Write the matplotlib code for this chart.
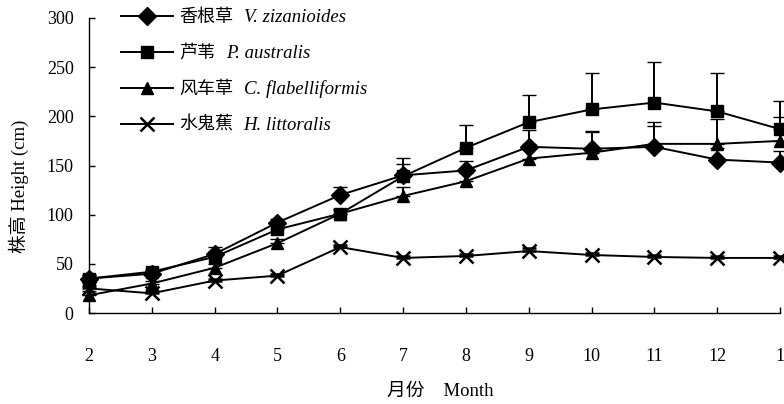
import numpy as np
import matplotlib
matplotlib.use("Agg")
import matplotlib.pyplot as plt

plt.rcParams['font.family'] = ['Liberation Serif', 'Noto Sans CJK SC']

# ==== Data: plant height (cm) by month, Feb -> next Jan ====
months = [2, 3, 4, 5, 6, 7, 8, 9, 10, 11, 12, 13]
month_labels = ['2', '3', '4', '5', '6', '7', '8', '9', '10', '11', '12', '1']

vz_height = [35, 40, 60, 92, 120, 140, 145, 169, 167, 169, 156, 153]
vz_err = [4, 4, 7, 4, 8, 12, 10, 17, 17, 25, 12, 12]

pa_height = [35, 42, 57, 85, 101, 139, 168, 194, 207, 214, 205, 187]
pa_err = [4, 3, 5, 5, 5, 19, 23, 28, 37, 41, 39, 29]

cf_height = [18, 30, 46, 71, 101, 119, 134, 157, 163, 172, 172, 175]
cf_err = [4, 3, 4, 4, 4, 9, 8, 15, 22, 18, 25, 24]

hl_height = [25, 20, 33, 38, 67, 56, 58, 63, 59, 57, 56, 56]
hl_err = [2, 2, 2, 2, 2, 2, 2, 3, 2, 2, 2, 2]

cn_names = ['香根草', '芦苇', '风车草', '水鬼蕉']
latin_names = ['V. zizanioides', 'P. australis', 'C. flabelliformis', 'H. littoralis']
markers = ['D', 's', '^', 'x']
heights = [vz_height, pa_height, cf_height, hl_height]
errors = [vz_err, pa_err, cf_err, hl_err]

fig = plt.figure(figsize=(7.84, 4.04), dpi=100)
ax = fig.add_axes([89 / 784, 1 - 313 / 404, (780 - 89) / 784, (313 - 18) / 404])

handles = []
for h, e, mk in zip(heights, errors, markers):
    h = np.array(h)
    e = np.array(e)
    cont = ax.errorbar(months, h, yerr=[np.zeros_like(e), e], color='black',
                       marker=mk, markersize=10 if mk == 'x' else 9,
                       markeredgewidth=1.8 if mk == 'x' else 1,
                       linewidth=1.4, elinewidth=1.4, capsize=5, capthick=1.4,
                       clip_on=False)
    for art in cont.lines[1] + cont.lines[2]:
        art.set_clip_on(False)
    handles.append(cont.lines[0])

ax.set_xlim(2, 13)
ax.set_ylim(0, 300)
ax.set_xticks(months)
ax.set_xticklabels(month_labels)
ax.set_yticks([0, 50, 100, 150, 200, 250, 300])

for side in ['top', 'right']:
    ax.spines[side].set_visible(False)
for side in ['left', 'bottom']:
    ax.spines[side].set_linewidth(1.0)

ax.tick_params(axis='x', direction='in', length=4, width=1, pad=25, labelsize=13)
ax.tick_params(axis='y', direction='in', length=4, width=1, pad=11, labelsize=13)

ax.set_ylabel('株高 Height (cm)', fontsize=13.5)
ax.yaxis.set_label_coords(-60 / 691, (313 - 186) / 295)
fig.text(440 / 784, 1 - 391 / 404, '月份    Month', ha='center', va='center', fontsize=13.5)

leg = ax.legend(handles, cn_names, loc='upper left', frameon=False,
                bbox_to_anchor=(121 / 784, 1 - 9 / 404), bbox_transform=fig.transFigure,
                borderpad=0, borderaxespad=0, handlelength=2.9, handletextpad=0.35,
                labelspacing=1.05, fontsize=13)

# italic Latin names follow the Chinese legend labels
fig.canvas.draw()
renderer = fig.canvas.get_renderer()
inv = fig.transFigure.inverted()
for txt, name in zip(leg.get_texts(), latin_names):
    bb = txt.get_window_extent(renderer)
    x0, yc = inv.transform((bb.x1 + 10, (bb.y0 + bb.y1) / 2))
    fig.text(x0, yc, name, style='italic', fontsize=13.5, ha='left', va='center',
             family='Liberation Serif')

fig.savefig('out.png', dpi=100)
